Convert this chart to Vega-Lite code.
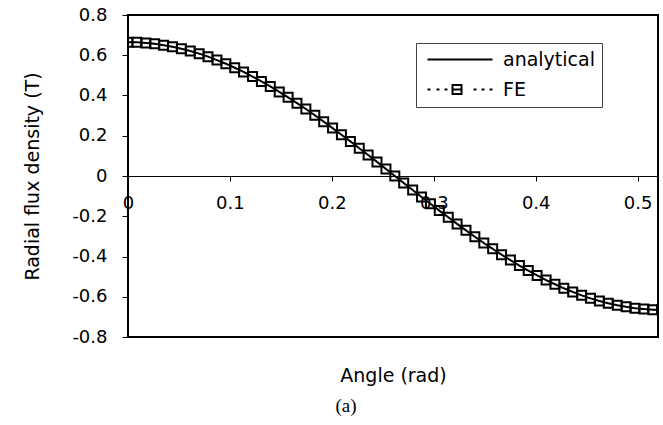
{
  "$schema": "https://vega.github.io/schema/vega-lite/v6.json",
  "width": 530,
  "height": 322,
  "autosize": {"type": "none"},
  "padding": {"left": 128, "top": 15, "right": 5, "bottom": 88},
  "background": "white",
  "config": {
    "view": {"stroke": "black", "strokeWidth": 2},
    "font": "DejaVu Sans",
    "axis": {"grid": false}
  },
  "title": {
    "text": "(a)",
    "orient": "bottom",
    "anchor": "middle",
    "font": "Liberation Serif",
    "fontSize": 19,
    "fontWeight": "normal",
    "color": "black",
    "dx": -47,
    "offset": 12
  },
  "data": {
    "values": [
      {"angle": 0.0, "analytical": 0.665, "fe": 0.665},
      {"angle": 0.0087, "analytical": 0.664, "fe": 0.664},
      {"angle": 0.0175, "analytical": 0.661, "fe": 0.661},
      {"angle": 0.0262, "analytical": 0.657, "fe": 0.657},
      {"angle": 0.0349, "analytical": 0.65, "fe": 0.65},
      {"angle": 0.0436, "analytical": 0.642, "fe": 0.642},
      {"angle": 0.0524, "analytical": 0.632, "fe": 0.632},
      {"angle": 0.0611, "analytical": 0.621, "fe": 0.621},
      {"angle": 0.0698, "analytical": 0.608, "fe": 0.608},
      {"angle": 0.0785, "analytical": 0.593, "fe": 0.593},
      {"angle": 0.0873, "analytical": 0.576, "fe": 0.576},
      {"angle": 0.096, "analytical": 0.558, "fe": 0.558},
      {"angle": 0.1047, "analytical": 0.538, "fe": 0.538},
      {"angle": 0.1134, "analytical": 0.517, "fe": 0.517},
      {"angle": 0.1222, "analytical": 0.494, "fe": 0.494},
      {"angle": 0.1309, "analytical": 0.47, "fe": 0.47},
      {"angle": 0.1396, "analytical": 0.445, "fe": 0.445},
      {"angle": 0.1484, "analytical": 0.418, "fe": 0.418},
      {"angle": 0.1571, "analytical": 0.391, "fe": 0.391},
      {"angle": 0.1658, "analytical": 0.362, "fe": 0.362},
      {"angle": 0.1745, "analytical": 0.333, "fe": 0.333},
      {"angle": 0.1833, "analytical": 0.302, "fe": 0.302},
      {"angle": 0.192, "analytical": 0.27, "fe": 0.27},
      {"angle": 0.2007, "analytical": 0.238, "fe": 0.238},
      {"angle": 0.2094, "analytical": 0.205, "fe": 0.205},
      {"angle": 0.2182, "analytical": 0.172, "fe": 0.172},
      {"angle": 0.2269, "analytical": 0.138, "fe": 0.138},
      {"angle": 0.2356, "analytical": 0.104, "fe": 0.104},
      {"angle": 0.2443, "analytical": 0.07, "fe": 0.07},
      {"angle": 0.2531, "analytical": 0.035, "fe": 0.035},
      {"angle": 0.2618, "analytical": 0.0, "fe": 0.0},
      {"angle": 0.2705, "analytical": -0.035, "fe": -0.035},
      {"angle": 0.2793, "analytical": -0.07, "fe": -0.07},
      {"angle": 0.288, "analytical": -0.104, "fe": -0.104},
      {"angle": 0.2967, "analytical": -0.138, "fe": -0.138},
      {"angle": 0.3054, "analytical": -0.172, "fe": -0.172},
      {"angle": 0.3142, "analytical": -0.205, "fe": -0.205},
      {"angle": 0.3229, "analytical": -0.238, "fe": -0.238},
      {"angle": 0.3316, "analytical": -0.27, "fe": -0.27},
      {"angle": 0.3403, "analytical": -0.302, "fe": -0.302},
      {"angle": 0.3491, "analytical": -0.333, "fe": -0.333},
      {"angle": 0.3578, "analytical": -0.362, "fe": -0.362},
      {"angle": 0.3665, "analytical": -0.391, "fe": -0.391},
      {"angle": 0.3752, "analytical": -0.418, "fe": -0.418},
      {"angle": 0.384, "analytical": -0.445, "fe": -0.445},
      {"angle": 0.3927, "analytical": -0.47, "fe": -0.47},
      {"angle": 0.4014, "analytical": -0.494, "fe": -0.494},
      {"angle": 0.4102, "analytical": -0.517, "fe": -0.517},
      {"angle": 0.4189, "analytical": -0.538, "fe": -0.538},
      {"angle": 0.4276, "analytical": -0.558, "fe": -0.558},
      {"angle": 0.4363, "analytical": -0.576, "fe": -0.576},
      {"angle": 0.4451, "analytical": -0.593, "fe": -0.593},
      {"angle": 0.4538, "analytical": -0.608, "fe": -0.608},
      {"angle": 0.4625, "analytical": -0.621, "fe": -0.621},
      {"angle": 0.4712, "analytical": -0.632, "fe": -0.632},
      {"angle": 0.48, "analytical": -0.642, "fe": -0.642},
      {"angle": 0.4887, "analytical": -0.65, "fe": -0.65},
      {"angle": 0.4974, "analytical": -0.657, "fe": -0.657},
      {"angle": 0.5061, "analytical": -0.661, "fe": -0.661},
      {"angle": 0.5149, "analytical": -0.664, "fe": -0.664},
      {"angle": 0.5236, "analytical": -0.665, "fe": -0.665}
    ]
  },
  "encoding": {
    "x": {
      "field": "angle",
      "type": "quantitative",
      "scale": {"domain": [0, 0.52], "nice": false, "zero": false},
      "axis": {
        "title": "Angle (rad)",
        "titleFont": "DejaVu Sans",
        "titleFontSize": 19,
        "titleFontWeight": "normal",
        "titleColor": "black",
        "titlePadding": 154,
        "offset": -161,
        "values": [0, 0.1, 0.2, 0.3, 0.4, 0.5],
        "labelFlush": false,
        "labelOverlap": false,
        "labelFontSize": 18,
        "labelColor": "black",
        "labelPadding": 13,
        "tickSize": 5,
        "tickColor": "black",
        "domainColor": "black",
        "domainWidth": 1,
        "labelExpr": "datum.value == 0 ? '0' : format(datum.value, '.1f')"
      }
    }
  },
  "layer": [
    {
      "mark": {"type": "line", "strokeDash": [3, 3], "strokeWidth": 1, "clip": true},
      "encoding": {
        "y": {
          "field": "fe",
          "type": "quantitative",
          "scale": {"domain": [-0.8, 0.8], "nice": false},
          "axis": {
            "title": "Radial flux density (T)",
            "titleFontSize": 19,
            "titleFontWeight": "normal",
            "titleColor": "black",
            "titlePadding": 29,
            "values": [-0.8, -0.6, -0.4, -0.2, 0, 0.2, 0.4, 0.6, 0.8],
            "labelFontSize": 18,
            "labelColor": "black",
            "labelPadding": 15,
            "tickSize": 6,
            "tickColor": "black",
            "domain": false,
            "labelExpr": "datum.value == 0 ? '0' : (datum.value < 0 ? '-' : '') + format(abs(datum.value), '.1f')"
          }
        },
        "color": {
          "datum": "FE",
          "scale": {"domain": ["analytical", "FE"], "range": ["black", "black"]},
          "legend": {
            "title": null,
            "orient": "none",
            "legendX": 288,
            "legendY": 28,
            "strokeColor": "#444",
            "fillColor": "white",
            "padding": 7,
            "rowPadding": 10,
            "labelFont": "DejaVu Sans",
            "labelFontSize": 19,
            "labelColor": "black",
            "labelOffset": 61,
            "symbolSize": 100,
            "symbolStrokeWidth": 2,
            "encode": {
              "symbols": {
                "update": {
                  "shape": {"signal": "datum.value === 'FE' ? 'M-1,0H-0.4M0.8,0H1.4M2.4,0H3M4,-0.9H5.8V0.9H4ZM4,0H5.8M8.2,0H8.8M9.8,0H10.4M11.4,0H12' : 'M-1,0H12'"},
                  "fill": {"value": "transparent"},
                  "stroke": {"value": "black"},
                  "strokeWidth": {"value": 2},
                  "strokeDash": {"value": []},
                  "opacity": {"value": 1}
                }
              }
            }
          }
        }
      }
    },
    {
      "mark": {"type": "point", "shape": "square", "filled": false, "size": 81, "strokeWidth": 2, "opacity": 1, "clip": true},
      "encoding": {
        "y": {"field": "fe", "type": "quantitative", "scale": {"domain": [-0.8, 0.8], "nice": false}},
        "color": {"datum": "FE", "scale": {"domain": ["analytical", "FE"], "range": ["black", "black"]}}
      }
    },
    {
      "mark": {"type": "line", "strokeWidth": 2, "clip": true},
      "encoding": {
        "y": {"field": "analytical", "type": "quantitative", "scale": {"domain": [-0.8, 0.8], "nice": false}},
        "color": {"datum": "analytical", "scale": {"domain": ["analytical", "FE"], "range": ["black", "black"]}}
      }
    }
  ]
}
